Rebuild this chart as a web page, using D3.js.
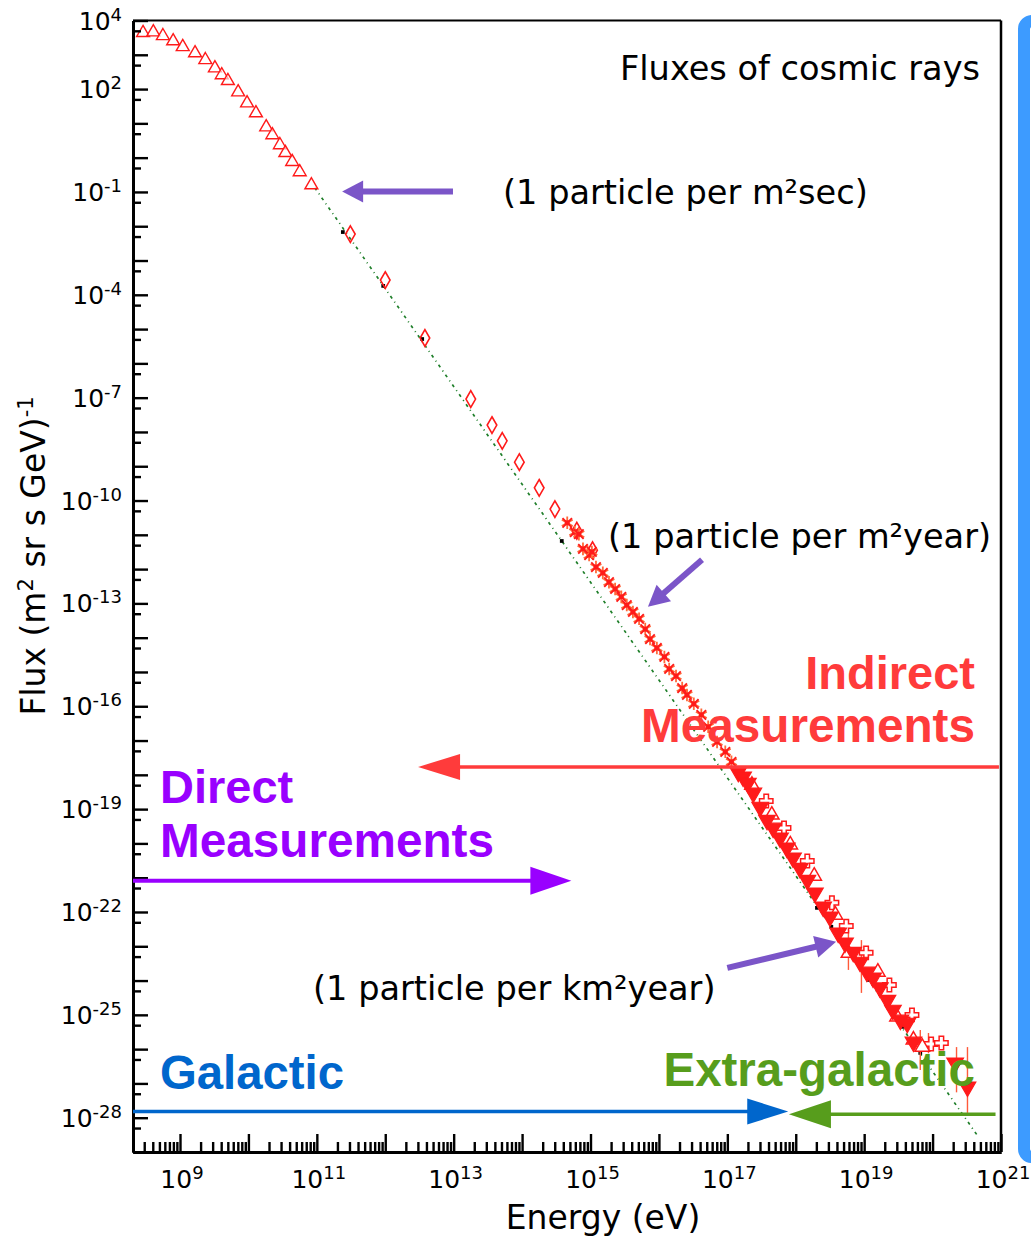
<!DOCTYPE html>
<html>
<head>
<meta charset="utf-8">
<script src="https://cdn.jsdelivr.net/npm/d3@7"></script>
<style>
  html, body { margin: 0; padding: 0; background: #fff; }
  svg { display: block; }
</style>
</head>
<body>
<svg id="chart" width="1031" height="1237"></svg>
<script>
// All points are [log10(E / eV), log10(flux / (m^2 sr s GeV)^-1)]

// Direct measurements at low energy (open up-triangles)
const lowEnergyTriangles = [
  [8.46, 3.64], [8.61, 3.66], [8.75, 3.55], [8.90, 3.40], [9.04, 3.23],
  [9.22, 3.05], [9.37, 2.85], [9.51, 2.61], [9.61, 2.41], [9.70, 2.24],
  [9.85, 1.91], [9.98, 1.59], [10.11, 1.30], [10.26, 0.89], [10.35, 0.66],
  [10.46, 0.37], [10.54, 0.14], [10.64, -0.12], [10.75, -0.42], [10.92, -0.80]
];

// Open diamonds, 10^11 - 10^15 eV
const diamondPoints = [
  [11.49, -2.23], [12.00, -3.57], [12.58, -5.26], [13.25, -7.04], [13.56, -7.80],
  [13.71, -8.26], [13.96, -8.88], [14.25, -9.63], [14.48, -10.25],
  [14.80, -10.88], [15.03, -11.45]
];

// Asterisks around the knee
const asteriskPoints = [
  [14.66, -10.65], [14.77, -10.92], [14.83, -10.98], [14.89, -11.41], [14.98, -11.59],
  [15.02, -11.50], [15.08, -11.94], [15.18, -12.11], [15.27, -12.38], [15.36, -12.58],
  [15.45, -12.81], [15.53, -13.05], [15.62, -13.25], [15.71, -13.45], [15.80, -13.75],
  [15.87, -14.04], [15.97, -14.30], [16.08, -14.56], [16.15, -14.91], [16.25, -15.12],
  [16.34, -15.47], [16.41, -15.67], [16.51, -15.93], [16.62, -16.25], [16.72, -16.60],
  [16.85, -17.04], [16.97, -17.33], [17.06, -17.62]
];

// Air-shower data above 10^17 eV (filled down-triangles)
const filledDownTriangles = [
  [17.16, -17.92], [17.23, -18.06], [17.30, -18.24], [17.38, -18.53], [17.48, -18.94],
  [17.58, -19.32], [17.67, -19.55], [17.77, -19.84], [17.87, -20.13], [17.96, -20.42],
  [18.06, -20.72], [18.17, -21.07], [18.28, -21.44], [18.40, -21.85], [18.50, -22.14],
  [18.62, -22.61], [18.72, -22.90], [18.84, -23.17], [18.94, -23.46], [19.04, -23.75],
  [19.13, -23.92], [19.23, -24.21], [19.34, -24.57], [19.42, -24.86], [19.53, -25.15],
  [19.63, -25.24], [19.72, -25.79], [20.33, -26.40], [20.51, -27.10]
];

// Open up-triangles in the same range
const openUpTriangles = [
  [17.36, -18.30], [17.65, -19.17], [17.92, -20.04], [18.27, -20.95], [18.58, -22.09],
  [18.77, -23.20], [19.20, -23.75], [19.48, -25.06], [19.72, -25.73], [19.85, -25.94]
];

// Open crosses in the same range
const openCrosses = [
  [17.51, -18.82], [17.77, -19.61], [18.11, -20.57], [18.47, -21.79], [18.68, -22.47],
  [18.97, -23.25], [19.31, -24.19], [19.64, -25.06], [19.92, -25.91], [20.07, -25.88]
];

// Vertical error bars: [log10 E, upper log10 flux, lower log10 flux]
const errorBars = [
  [18.77, -22.52, -23.69], [18.96, -22.82, -24.36], [19.82, -25.44, -26.61],
  [19.94, -25.53, -26.12], [20.35, -25.94, -27.26], [20.51, -25.94, -27.86]
];

// Small black points lying on the power law
const blackDots = [
  [11.38, -2.17], [11.97, -3.74], [12.54, -5.29], [14.58, -11.18], [18.31, -21.88],
  [18.52, -22.43], [18.69, -22.96], [18.91, -23.52], [19.06, -23.98], [19.56, -25.35],
  [19.82, -26.11]
];

// Power-law reference line end points
const powerLawLine = [[10.97, -0.88], [20.67, -28.56]];

// Tick labels (exponents of ten)
const xLabelExponents = [9, 11, 13, 15, 17, 19, 21];
const yLabelExponents = [4, 2, -1, -4, -7, -10, -13, -16, -19, -22, -25, -28];

// Annotation arrows: [from, to] in the same log units
const calloutArrows = [
  { from: [12.99, -0.99], to: [11.37, -0.99] },
  { from: [16.63, -11.73], to: [15.84, -13.10] },
  { from: [17.00, -23.63], to: [18.59, -22.87] }
];
const regionArrows = [
  { from: [20.97, -17.77], to: [12.48, -17.77], color: "#ff3b3b", width: 3.5, len: 42, half: 13 },
  { from: [8.313, -21.09], to: [14.72, -21.09], color: "#9900ff", width: 4, len: 41, half: 14 },
  { from: [8.313, -27.82], to: [17.89, -27.82], color: "#0066cc", width: 3.5, len: 41, half: 13 },
  { from: [20.92, -27.90], to: [17.90, -27.90], color: "#579d1c", width: 3.5, len: 42, half: 14 }
];

// ---------------------------------------------------------------
const svg = d3.select("#chart");
const W = 1031, H = 1237;
const plot = { left: 133, right: 1001, top: 20.5, bottom: 1152 };

const x = d3.scaleLog().domain([Math.pow(10, 8.313), 1e21]).range([plot.left, plot.right]);
const y = d3.scaleLog().domain([1e4, 1e-29]).range([plot.top, plot.bottom]);
const px = d => x(Math.pow(10, d[0]));
const py = d => y(Math.pow(10, d[1]));

const RED = "#ff1a1a";
const textFont = "'DejaVu Sans', sans-serif";
const boldFont = "'Liberation Sans', Arial, sans-serif";

svg.append("rect").attr("width", W).attr("height", H).attr("fill", "#fff");

// power-law reference line
svg.append("path")
  .datum(powerLawLine)
  .attr("d", d3.line().x(px).y(py))
  .attr("fill", "none")
  .attr("stroke", "#1f7f2a")
  .attr("stroke-width", 1.7)
  .attr("stroke-dasharray", "3,4,1,4");

// black points
svg.append("g").selectAll("path").data(blackDots).join("path")
  .attr("transform", d => `translate(${px(d)},${py(d)})`)
  .attr("d", d3.symbol(d3.symbolSquare, 14))
  .attr("fill", "#000");

// error bars
svg.append("g").selectAll("line").data(errorBars).join("line")
  .attr("x1", d => x(Math.pow(10, d[0]))).attr("x2", d => x(Math.pow(10, d[0])))
  .attr("y1", d => y(Math.pow(10, d[1]))).attr("y2", d => y(Math.pow(10, d[2])))
  .attr("stroke", "#ff5a3a").attr("stroke-width", 1.4);

// open up-triangles, low energy
svg.append("g").selectAll("path").data(lowEnergyTriangles).join("path")
  .attr("transform", d => `translate(${px(d)},${py(d)})`)
  .attr("d", d3.symbol(d3.symbolTriangle, 72))
  .attr("fill", "#fff").attr("fill-opacity", 0.6)
  .attr("stroke", RED).attr("stroke-width", 1.4);

// open diamonds
svg.append("g").selectAll("path").data(diamondPoints).join("path")
  .attr("transform", d => `translate(${px(d)},${py(d)})`)
  .attr("d", d3.symbol(d3.symbolDiamond, 80))
  .attr("fill", "none")
  .attr("stroke", RED).attr("stroke-width", 1.6);

// asterisks
const ast = svg.append("g").selectAll("g").data(asteriskPoints).join("g")
  .attr("transform", d => `translate(${px(d)},${py(d)})`);
ast.append("path").attr("d", d3.symbol(d3.symbolAsterisk, 110))
  .attr("fill", "none").attr("stroke", "#ff6a3a").attr("stroke-width", 1.8);
ast.append("path").attr("d", d3.symbol(d3.symbolTimes, 60))
  .attr("fill", "none").attr("stroke", RED).attr("stroke-width", 1.8);
ast.append("path").attr("d", d3.symbol(d3.symbolSquare, 24)).attr("fill", RED);

// open crosses
svg.append("g").selectAll("path").data(openCrosses).join("path")
  .attr("transform", d => `translate(${px(d) + 4},${py(d) - 2})`)
  .attr("d", d3.symbol(d3.symbolCross, 100))
  .attr("fill", "#fff")
  .attr("stroke", RED).attr("stroke-width", 1.5);

// open up-triangles, high energy
svg.append("g").selectAll("path").data(openUpTriangles).join("path")
  .attr("transform", d => `translate(${px(d)},${py(d)})`)
  .attr("d", d3.symbol(d3.symbolTriangle, 90))
  .attr("fill", "#fff")
  .attr("stroke", RED).attr("stroke-width", 1.5);

// filled down-triangles
svg.append("g").selectAll("path").data(filledDownTriangles).join("path")
  .attr("transform", d => `translate(${px(d)},${py(d)}) rotate(180)`)
  .attr("d", d3.symbol(d3.symbolTriangle, 120))
  .attr("fill", RED)
  .attr("stroke", RED).attr("stroke-width", 1.2);

// ---- axes ----
const decadesX = d3.range(9, 22).map(e => Math.pow(10, e));
const minorX = [];
for (let e = 8; e <= 20; e++) for (let m = 2; m <= 9; m++) {
  const v = m * Math.pow(10, e);
  if (v >= x.domain()[0] && v <= 1e21) minorX.push(v);
}
const decadesY = d3.range(4, -30, -1).map(e => Math.pow(10, e));
const minorY = d3.range(3, -30, -1).map(e => 5 * Math.pow(10, e));

function styleAxis(g, w) {
  g.select(".domain").attr("stroke", "#000").attr("stroke-width", w);
  g.selectAll(".tick line").attr("stroke", "#000").attr("stroke-width", 2.4);
}

svg.append("g").attr("transform", `translate(0,${plot.bottom})`)
  .call(d3.axisBottom(x).tickValues(minorX).tickSize(-10).tickSizeOuter(0).tickFormat(""))
  .call(g => styleAxis(g, 3));
svg.append("g").attr("transform", `translate(0,${plot.bottom})`)
  .call(d3.axisBottom(x).tickValues(decadesX).tickSize(-18).tickSizeOuter(0).tickFormat(""))
  .call(g => styleAxis(g, 3));
svg.append("g").attr("transform", `translate(${plot.left},0)`)
  .call(d3.axisLeft(y).tickValues(minorY).tickSize(-8).tickSizeOuter(0).tickFormat(""))
  .call(g => styleAxis(g, 3));
svg.append("g").attr("transform", `translate(${plot.left},0)`)
  .call(d3.axisLeft(y).tickValues(decadesY).tickSize(-15).tickSizeOuter(0).tickFormat(""))
  .call(g => styleAxis(g, 3));

// top and right frame
svg.append("line").attr("x1", plot.left).attr("x2", plot.right)
  .attr("y1", plot.top).attr("y2", plot.top).attr("stroke", "#000").attr("stroke-width", 2);
svg.append("line").attr("x1", plot.right).attr("x2", plot.right)
  .attr("y1", plot.top).attr("y2", plot.bottom).attr("stroke", "#000").attr("stroke-width", 2.5);

// tick labels
function powerLabel(t, exp) {
  t.append("tspan").text("10");
  t.append("tspan").attr("dy", -9).attr("font-size", 18).text(exp);
}
svg.append("g").selectAll("text").data(xLabelExponents).join("text")
  .attr("x", e => x(Math.pow(10, e)) + 2)
  .attr("y", plot.bottom + 36)
  .attr("text-anchor", "middle")
  .attr("font-family", textFont).attr("font-size", 25).attr("fill", "#000")
  .each(function (e) { powerLabel(d3.select(this), String(e)); });
svg.append("g").selectAll("text").data(yLabelExponents).join("text")
  .attr("x", 122)
  .attr("y", e => y(Math.pow(10, e)) + 9)
  .attr("text-anchor", "end")
  .attr("font-family", textFont).attr("font-size", 25).attr("fill", "#000")
  .each(function (e) { powerLabel(d3.select(this), String(e)); });

// axis titles
svg.append("text")
  .attr("x", 603).attr("y", 1229)
  .attr("text-anchor", "middle")
  .attr("font-family", textFont).attr("font-size", 33).attr("fill", "#000")
  .text("Energy (eV)");
const yt = svg.append("text")
  .attr("transform", "translate(45,556) rotate(-90)")
  .attr("text-anchor", "middle")
  .attr("font-family", textFont).attr("font-size", 33).attr("fill", "#000");
yt.append("tspan").text("Flux (m");
yt.append("tspan").attr("dy", -12).attr("font-size", 21).text("2");
yt.append("tspan").attr("dy", 12).text(" sr s GeV)");
yt.append("tspan").attr("dy", -12).attr("font-size", 21).text("-1");

// plain annotations
const notes = [
  { text: "Fluxes of cosmic rays", x: 980, y: 80, anchor: "end" },
  { text: "(1 particle per m\u00b2sec)", x: 503, y: 204, anchor: "start" },
  { text: "(1 particle per m\u00b2year)", x: 608, y: 548, anchor: "start" },
  { text: "(1 particle per km\u00b2year)", x: 313, y: 1000, anchor: "start" }
];
svg.append("g").selectAll("text").data(notes).join("text")
  .attr("x", d => d.x).attr("y", d => d.y)
  .attr("text-anchor", d => d.anchor)
  .attr("font-family", textFont).attr("font-size", 33.6).attr("fill", "#000")
  .text(d => d.text);

// region labels
const regionLabels = [
  { text: "Indirect", x: 975, y: 689, anchor: "end", color: "#ff3b3b", size: 47 },
  { text: "Measurements", x: 975, y: 742, anchor: "end", color: "#ff3b3b", size: 47.7 },
  { text: "Direct", x: 160, y: 803, anchor: "start", color: "#9900ff", size: 47 },
  { text: "Measurements", x: 160, y: 857, anchor: "start", color: "#9900ff", size: 47.7 },
  { text: "Galactic", x: 160, y: 1089, anchor: "start", color: "#0066cc", size: 47.3 },
  { text: "Extra-galactic", x: 975, y: 1086, anchor: "end", color: "#579d1c", size: 47.5 }
];
svg.append("g").selectAll("text").data(regionLabels).join("text")
  .attr("x", d => d.x).attr("y", d => d.y)
  .attr("text-anchor", d => d.anchor)
  .attr("font-family", boldFont).attr("font-weight", "bold")
  .attr("font-size", d => d.size).attr("fill", d => d.color)
  .text(d => d.text);

// arrows
function drawArrow(g, a, color, width, headLen, headHalf) {
  const x0 = px(a.from), y0 = py(a.from), x1 = px(a.to), y1 = py(a.to);
  const dx = x1 - x0, dy = y1 - y0, L = Math.hypot(dx, dy);
  const ux = dx / L, uy = dy / L;
  const bx = x1 - ux * headLen, by = y1 - uy * headLen;
  g.append("line")
    .attr("x1", x0).attr("y1", y0).attr("x2", bx + ux).attr("y2", by + uy)
    .attr("stroke", color).attr("stroke-width", width);
  g.append("path")
    .attr("d", `M${x1},${y1}L${bx - uy * headHalf},${by + ux * headHalf}L${bx + uy * headHalf},${by - ux * headHalf}Z`)
    .attr("fill", color);
}
const arrowLayer = svg.append("g");
calloutArrows.forEach(a => drawArrow(arrowLayer, a, "#7b55c8", 6, 21, 11));
regionArrows.forEach(a => drawArrow(arrowLayer, a, a.color, a.width, a.len, a.half));

// outer blue frame on the right
svg.append("rect")
  .attr("x", 1024).attr("y", 21).attr("width", 200).attr("height", 1136)
  .attr("rx", 8).attr("ry", 8)
  .attr("fill", "none").attr("stroke", "#3d9bff").attr("stroke-width", 12);
</script>
</body>
</html>
